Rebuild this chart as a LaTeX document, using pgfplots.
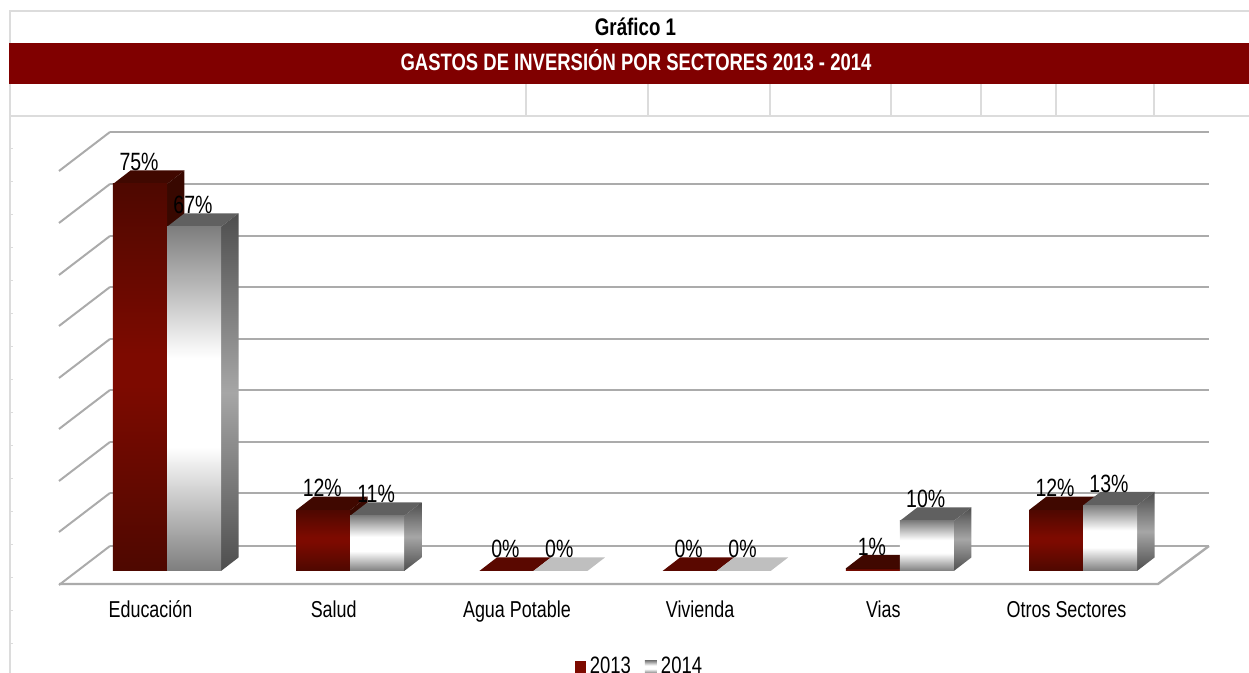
\documentclass[border=0pt]{standalone}
\usepackage{pgfplots}
\pgfplotsset{compat=1.18}
\usepackage{fontspec}
\setmainfont[FakeStretch=0.78]{Liberation Sans}
\definecolor{banner}{HTML}{800000}
\definecolor{rdark}{HTML}{4E0800}
\definecolor{rmid}{HTML}{7D0A00}
\definecolor{rside}{HTML}{380800}
\definecolor{rtop}{HTML}{400800}
\definecolor{rflat}{HTML}{5A0800}
\definecolor{gflat}{HTML}{BFBFBF}
\definecolor{gdark}{HTML}{7E7E7E}
\definecolor{gside}{HTML}{4E4E4E}
\definecolor{gsidem}{HTML}{A6A6A6}
\definecolor{gtop}{HTML}{606060}
\definecolor{frame}{HTML}{DCDCDC}
\definecolor{wall}{HTML}{ABABAB}
\pgfdeclareverticalshading{redfront}{100bp}{color(0bp)=(rdark); color(25bp)=(rdark); color(49bp)=(rmid); color(53bp)=(rmid); color(75bp)=(rdark); color(100bp)=(rdark)}
\pgfdeclareverticalshading{greyfront}{100bp}{color(0bp)=(gdark); color(25bp)=(gdark); color(43bp)=(white); color(56bp)=(white); color(75bp)=(gdark); color(100bp)=(gdark)}
\pgfdeclareverticalshading{greyside}{100bp}{color(0bp)=(gside); color(25bp)=(gside); color(50bp)=(gsidem); color(75bp)=(gside); color(100bp)=(gside)}
% dx, dy: depth of the pseudo-3D bar; bw: bar width (axis units)
\def\dpx{0.0955}\def\dpy{2.616}\def\bw{0.2948}
\newcommand{\solid}[5]{%
  \addplot[forget plot,no markers,draw=none,fill=#5] coordinates {({#1},{#2}) ({#1+\bw},{#2}) ({#1+\bw+\dpx},{#2+\dpy}) ({#1+\dpx},{#2+\dpy})} -- cycle;
  \addplot[forget plot,no markers,draw=none,#4] coordinates {({#1+\bw},0) ({#1+\bw+\dpx},\dpy) ({#1+\bw+\dpx},{#2+\dpy}) ({#1+\bw},{#2})} -- cycle;
  \addplot[forget plot,no markers,draw=none,shade,shading=#3] coordinates {({#1},0) ({#1+\bw},0) ({#1+\bw},{#2}) ({#1},{#2})} -- cycle;
}
\newcommand{\redbar}[2]{\solid{#1-\bw}{#2}{redfront}{fill=rside}{rtop}}
\newcommand{\greybar}[2]{\solid{#1}{#2}{greyfront}{shade,shading=greyside}{gtop}}
\newcommand{\flatbar}[2]{%
  \addplot[forget plot,no markers,draw=none,fill=#2] coordinates {({#1},0) ({#1+\bw},0) ({#1+\bw+\dpx},\dpy) ({#1+\dpx},\dpy)} -- cycle;
}
\begin{document}
\begin{tikzpicture}
\path[use as bounding box,clip] (0,0) rectangle (624.5pt,336.5pt);
% sheet and wall furniture, in reference pixels
\begin{scope}[x=0.5pt,y=-0.5pt,yshift=336.5pt]
  \draw[frame,line width=1.1pt] (10,673) -- (10,11) -- (1249,11);
  \draw[frame,line width=1.2pt] (10,116) -- (1249,116);
  \foreach \v in {526,648,770,891,981,1056,1154} \draw[frame,line width=0.8pt] (\v,84) -- (\v,116);
  \foreach \n in {0,...,15} \draw[frame,line width=0.9pt] (10,148.6+33*\n) -- (13,148.6+33*\n);
  \fill[banner] (9,43) rectangle (1249,84);
  \foreach \y in {132,184,236,287,339,390,442,493,546}{
    \draw[wall,line width=1pt] (110,\y) -- (1209,\y);
    \draw[wall,line width=1pt] (110,\y) -- (59,\y+39);
  }
  \draw[wall,line width=1.2pt] (59,584) -- (1158,584) -- (1209,546);
  \node[font=\fontsize{12pt}{14pt}\selectfont\bfseries,anchor=center] at (635.5,27) {Gráfico 1};
  \node[font=\fontsize{11.85pt}{14pt}\selectfont\bfseries,text=white,anchor=center] at (636,60.5) {GASTOS DE INVERSIÓN POR SECTORES 2013 - 2014};
\end{scope}
\begin{axis}[
  at={(0,0)},anchor=south west,
  scale only axis,width=624.5pt,height=336.5pt,
  xmin=-0.91157,xmax=5.9061,ymin=-19.767,ymax=110.66,
  axis line style={draw=none},
  tick style={draw=none},
  ytick=\empty,
  xtick={0,1,2,3,4,5},
  xticklabels={Educación,Salud,Agua Potable,Vivienda,Vias,Otros Sectores},
  xticklabel style={font=\fontsize{11.5pt}{14pt}\selectfont,anchor=base,xshift=-8.25pt,yshift=27.5pt},
  clip=false,
  legend style={at={(0.5128,0.0089)},anchor=center,draw=none,fill=none,legend columns=2,
    font=\fontsize{11.85pt}{14pt}\selectfont,inner sep=0pt,/tikz/every even column/.append style={column sep=5pt}},
]
% series-level entries for the legend (values of the Educación bars)
\addplot[area legend,draw=none,fill=none,no markers,
  legend image code/.code={\fill[rmid] (0pt,-3.2pt) rectangle (5.5pt,3.2pt);}] coordinates {(0,75)};
\addlegendentry{2013}
\addplot[area legend,draw=none,fill=none,no markers,
  legend image code/.code={\shade[shading=greyfront] (0pt,-3.2pt) rectangle (6pt,3.2pt);}] coordinates {(0,66.7)};
\addlegendentry{2014}
% Educación
\redbar{0}{75.0}\greybar{0}{66.7}
% Salud
\redbar{1}{11.8}\greybar{1}{10.7}
% Agua Potable, Vivienda (0 %)
\flatbar{2-\bw}{rflat}\flatbar{2}{gflat}
\flatbar{3-\bw}{rflat}\flatbar{3}{gflat}
% Vias
\redbar{4}{0.5}\greybar{4}{9.7}
% Otros Sectores
\redbar{5}{11.8}\greybar{5}{12.7}
% value labels
\addplot[forget plot,only marks,mark=none,point meta=explicit symbolic,
  nodes near coords,
  nodes near coords style={font=\fontsize{12.5pt}{14pt}\selectfont,anchor=center,xshift=-0.5pt,yshift=11pt}]
  table[meta=l] {
x y l
-0.147 75.0 75\%
0.147 66.7 67\%
0.853 11.8 12\%
1.147 10.7 11\%
1.853 0 0\%
2.147 0 0\%
2.853 0 0\%
3.147 0 0\%
3.853 0.5 1\%
4.147 9.7 10\%
4.853 11.8 12\%
5.147 12.7 13\%
};
\end{axis}
\end{tikzpicture}
\end{document}
